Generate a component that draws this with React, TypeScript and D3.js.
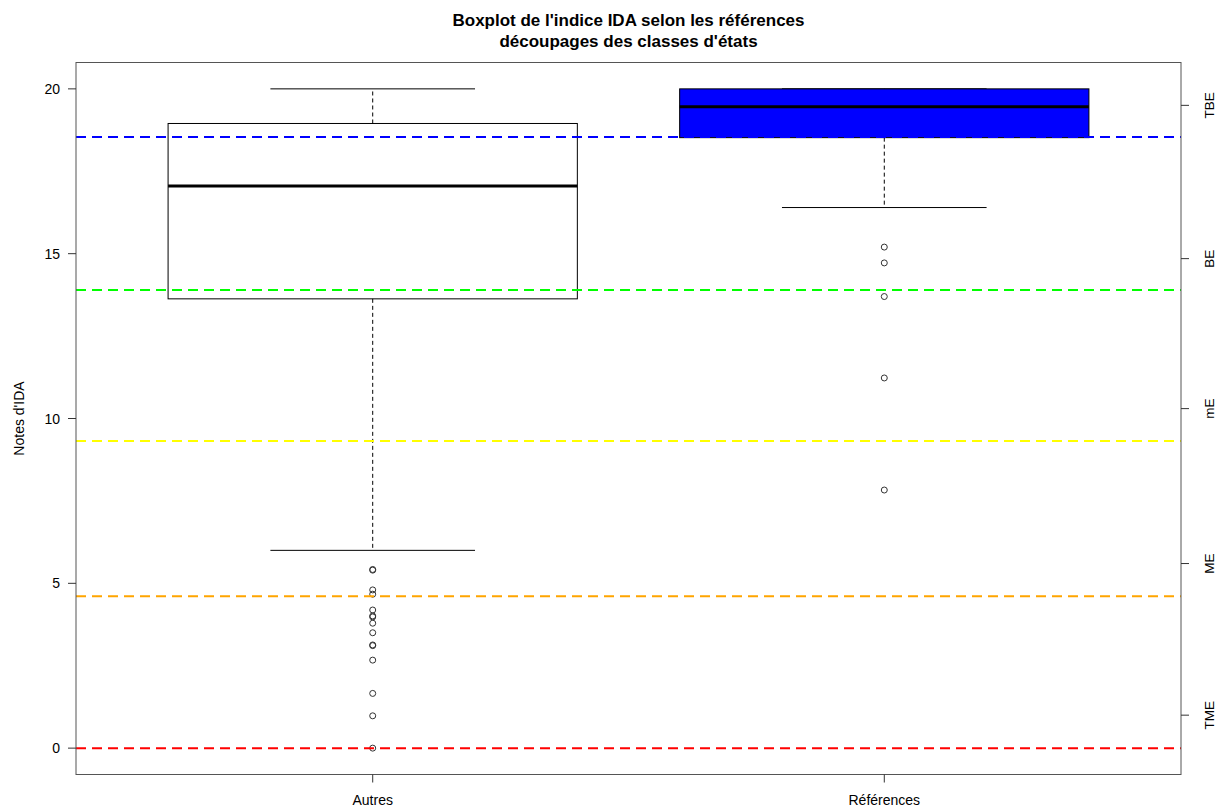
import React from "react";
import * as d3 from "d3";

const categories = ["Autres", "Références"];
const whiskerLow = [6.0, 16.4];
const q1 = [13.63, 18.52];
const median = [17.05, 19.46];
const q3 = [18.95, 20.0];
const whiskerHigh = [20.0, 20.0];
const boxFill = ["none", "#0000FF"];
const outliersAutres = [5.4, 5.42, 4.8, 4.67, 4.19, 4.01, 3.98, 3.79, 3.5, 3.11, 3.13, 2.67, 1.66, 0.98, 0.0];
const outliersRef = [15.2, 14.72, 13.7, 11.23, 7.83];
const outliers = [outliersAutres, outliersRef];

const refLines = [18.54, 13.9, 9.32, 4.61, 0.0];
const refColors = ["#0000FF", "#00FF00", "#FFFF00", "#FFA500", "#FF0000"];

const leftTicks = [0, 5, 10, 15, 20];
const rightTickValues = [19.5, 14.85, 10.3, 5.6, 1.0];
const rightTickLabels = ["TBE", "BE", "mE", "ME", "TME"];

const W = 1216;
const H = 807;
const left = 76;
const right = 1181;
const top = 62.5;
const bottom = 774.5;

export default function App() {
  const x = d3.scaleLinear().domain([0.42, 2.58]).range([left, right]);
  const y = d3.scaleLinear().domain([-0.8, 20.8]).range([bottom, top]);
  const font = "Liberation Sans, Arial, sans-serif";
  const bw = x(1.4) - x(1);
  const cw = x(1.2) - x(1);

  return (
    <svg width={W} height={H} style={{ position: "absolute", left: 0, top: 0 }} fontFamily={font}>
      <rect x={0} y={0} width={W} height={H} fill="white" />
      <text x={(left + right) / 2} y={26} textAnchor="middle" fontWeight="bold" fontSize={17}>
        Boxplot de l'indice IDA selon les références
      </text>
      <text x={(left + right) / 2} y={47} textAnchor="middle" fontWeight="bold" fontSize={17}>
        découpages des classes d'états
      </text>

      {categories.map((c, i) => {
        const cx = x(i + 1);
        return (
          <g key={c}>
            <line x1={cx} x2={cx} y1={y(q3[i])} y2={y(whiskerHigh[i])} stroke="black" strokeDasharray="4,3" />
            <line x1={cx} x2={cx} y1={y(q1[i])} y2={y(whiskerLow[i])} stroke="black" strokeDasharray="4,3" />
            <line x1={cx - cw} x2={cx + cw} y1={y(whiskerHigh[i])} y2={y(whiskerHigh[i])} stroke="black" />
            <line x1={cx - cw} x2={cx + cw} y1={y(whiskerLow[i])} y2={y(whiskerLow[i])} stroke="black" />
            <rect
              x={cx - bw}
              y={y(q3[i])}
              width={2 * bw}
              height={y(q1[i]) - y(q3[i])}
              fill={boxFill[i]}
              stroke="black"
            />
            <line x1={cx - bw} x2={cx + bw} y1={y(median[i])} y2={y(median[i])} stroke="black" strokeWidth={3} />
            {outliers[i].map((v, j) => (
              <circle key={j} cx={cx} cy={y(v)} r={3} fill="none" stroke="#333" strokeWidth={1} />
            ))}
          </g>
        );
      })}

      {refLines.map((v, i) => (
        <line
          key={i}
          x1={left}
          x2={right}
          y1={y(v)}
          y2={y(v)}
          stroke={refColors[i]}
          strokeWidth={2}
          strokeDasharray="10,6"
        />
      ))}

      <rect x={left} y={top} width={right - left} height={bottom - top} fill="none" stroke="#555" />

      {leftTicks.map((t) => (
        <g key={t}>
          <line x1={left - 8} x2={left} y1={y(t)} y2={y(t)} stroke="#333" />
          <text x={left - 16} y={y(t) + 5} textAnchor="end" fontSize={14}>
            {t}
          </text>
        </g>
      ))}
      <text transform={`translate(24,${(top + bottom) / 2}) rotate(-90)`} textAnchor="middle" fontSize={14}>
        Notes d'IDA
      </text>

      {rightTickValues.map((t, i) => (
        <g key={i}>
          <line x1={right} x2={right + 8} y1={y(t)} y2={y(t)} stroke="#333" />
          <text transform={`translate(1213.5,${y(t)}) rotate(-90)`} textAnchor="middle" fontSize={13.5}>
            {rightTickLabels[i]}
          </text>
        </g>
      ))}

      {categories.map((c, i) => (
        <g key={c}>
          <line x1={x(i + 1)} x2={x(i + 1)} y1={bottom} y2={bottom + 8} stroke="#333" />
          <text x={x(i + 1)} y={805} textAnchor="middle" fontSize={14}>
            {c}
          </text>
        </g>
      ))}
    </svg>
  );
}
